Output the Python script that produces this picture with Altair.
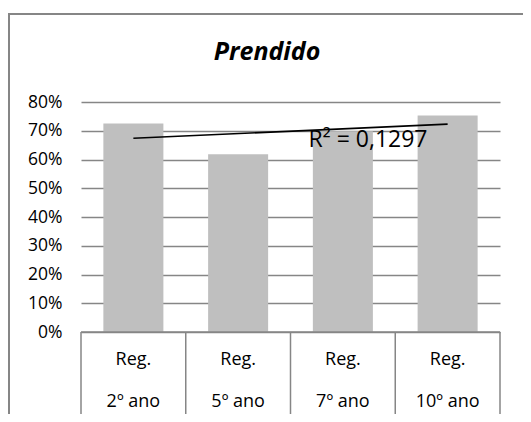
import altair as alt
import pandas as pd
import numpy as np

# ---- data ----
categories = ["Reg. 2º ano", "Reg. 5º ano", "Reg. 7º ano", "Reg. 10º ano"]
label_line1 = ["Reg.", "Reg.", "Reg.", "Reg."]
label_line2 = ["2º ano", "5º ano", "7º ano", "10º ano"]
values = [0.725, 0.618, 0.698, 0.753]
y_ticks = [0.0, 0.1, 0.2, 0.3, 0.4, 0.5, 0.6, 0.7, 0.8]
title_text = "Prendido"
r2_text = "R² = 0,1297"

df = pd.DataFrame({"cat": categories, "l1": label_line1, "l2": label_line2, "v": values})

# linear trendline (Excel style) through category index 1..n
idx = np.arange(1, len(values) + 1)
slope, intercept = np.polyfit(idx, values, 1)
trend = pd.DataFrame({
    "cat": [categories[0], categories[-1]],
    "t": [intercept + slope * idx[0], intercept + slope * idx[-1]],
})

W, H = 419, 230
FONT = "Open Sans"
GRID = "#868686"

xs = alt.Scale(domain=categories, paddingInner=0, paddingOuter=0)
ys = alt.Scale(domain=[0, 0.8])
y_axis = alt.Axis(
    values=y_ticks, format=".0%", grid=True, gridColor=GRID, gridWidth=1.5,
    domain=False, ticks=False, labelPadding=19, labelFontSize=17.5,
    labelFont=FONT, labelColor="black", title=None, labelOverlap=False,
)

base = alt.Chart(df)

frame = alt.Chart(pd.DataFrame({"a": [0]})).mark_rect(
    fillOpacity=0, stroke=GRID, strokeWidth=2
).encode(
    x=alt.value(-72), x2=alt.value(W + 60),
    y=alt.value(-88), y2=alt.value(H + 120),
)

bars = base.mark_bar(color="#BFBFBF", width=alt.RelativeBandSize(0.573)).encode(
    x=alt.X("cat:N", scale=xs, sort=categories, axis=None),
    y=alt.Y("v:Q", scale=ys, axis=y_axis),
)

cell_lines = base.mark_rule(color=GRID, strokeWidth=1.5).encode(
    x=alt.X("cat:N", scale=xs, sort=categories, bandPosition=0, axis=None),
    y=alt.value(H), y2=alt.value(H + 90),
)
cell_end = alt.Chart(pd.DataFrame({"a": [0]})).mark_rule(color=GRID, strokeWidth=1.5).encode(
    x=alt.value(W), y=alt.value(H), y2=alt.value(H + 90),
)
base_line = alt.Chart(pd.DataFrame({"a": [0]})).mark_rule(color=GRID, strokeWidth=1.5).encode(
    x=alt.value(0), x2=alt.value(W), y=alt.value(H),
)

row1 = base.mark_text(font=FONT, fontSize=18, baseline="middle", color="black").encode(
    x=alt.X("cat:N", scale=xs, sort=categories, bandPosition=0.5, axis=None),
    y=alt.value(258), text="l1:N",
)
row2 = base.mark_text(font=FONT, fontSize=18, baseline="middle", color="black").encode(
    x=alt.X("cat:N", scale=xs, sort=categories, bandPosition=0.5, axis=None),
    y=alt.value(300), text="l2:N",
)

trendline = alt.Chart(trend).mark_line(color="black", strokeWidth=1.6).encode(
    x=alt.X("cat:N", scale=xs, sort=categories, bandPosition=0.5, axis=None),
    y=alt.Y("t:Q", scale=ys, axis=y_axis),
)

r2 = alt.Chart(pd.DataFrame({"t": [r2_text]})).mark_text(
    font=FONT, fontSize=23, baseline="middle", align="center", color="black"
).encode(x=alt.value(287), y=alt.value(38), text="t:N")

title = alt.Chart(pd.DataFrame({"t": [title_text]})).mark_text(
    font=FONT, fontSize=25, fontWeight="bold", fontStyle="italic",
    baseline="middle", align="center", color="black",
).encode(x=alt.value(186), y=alt.value(-50), text="t:N")

chart = alt.layer(
    frame, bars, base_line, cell_lines, cell_end, row1, row2, trendline, r2, title
).properties(
    width=W, height=H,
    autosize=alt.AutoSizeParams(type="none"),
    padding={"left": 73, "top": 94, "right": 23, "bottom": 82},
).configure_view(stroke=None)

chart.save("out.html", embed_options={"renderer": "svg", "actions": False})
